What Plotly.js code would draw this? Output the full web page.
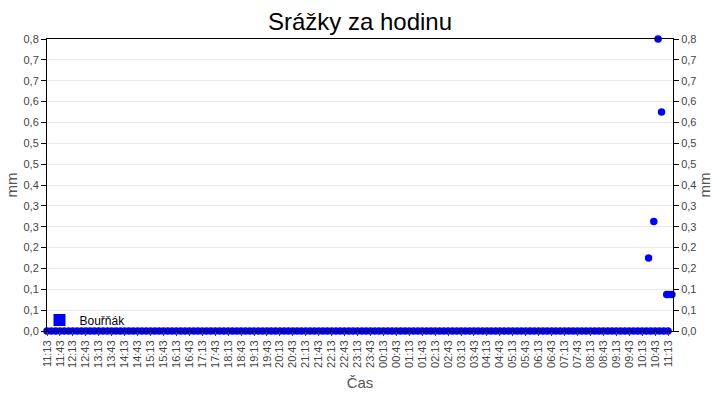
<!DOCTYPE html>
<html>
<head>
<meta charset="utf-8">
<script src="https://cdn.plot.ly/plotly-3.0.1.min.js"></script>
<style>html,body{margin:0;padding:0;background:#fff;}#chart{width:720px;height:400px;}</style>
</head>
<body>
<div id="chart"></div>
<script>
// Measurement times (day 1 = 2024-06-01, day 2 = 2024-06-02) and hourly rainfall in mm
const timesDay1 = ["11:13","11:23","11:33","11:43","11:53",
  "12:03","12:13","12:23","12:33","12:43","12:53","13:03","13:13","13:23","13:33","13:43","13:53",
  "14:03","14:13","14:23","14:33","14:43","14:53","15:03","15:13","15:23","15:33","15:43","15:53",
  "16:03","16:13","16:23","16:33","16:43","16:53","17:03","17:13","17:23","17:33","17:43","17:53",
  "18:03","18:13","18:23","18:33","18:43","18:53","19:03","19:13","19:23","19:33","19:43","19:53",
  "20:03","20:13","20:23","20:33","20:43","20:53","21:03","21:13","21:23","21:33","21:43","21:53",
  "22:03","22:13","22:23","22:33","22:43","22:53","23:03","23:13","23:23","23:33","23:43","23:53"];
const valuesDay1 = [0,0,0,0,0,
  0,0,0,0,0,0,0,0,0,0,0,0,
  0,0,0,0,0,0,0,0,0,0,0,0,
  0,0,0,0,0,0,0,0,0,0,0,0,
  0,0,0,0,0,0,0,0,0,0,0,0,
  0,0,0,0,0,0,0,0,0,0,0,0,
  0,0,0,0,0,0,0,0,0,0,0,0];
const timesDay2 = [
  "00:03","00:13","00:23","00:33","00:43","00:53","01:03","01:13","01:23","01:33","01:43","01:53",
  "02:03","02:13","02:23","02:33","02:43","02:53","03:03","03:13","03:23","03:33","03:43","03:53",
  "04:03","04:13","04:23","04:33","04:43","04:53","05:03","05:13","05:23","05:33","05:43","05:53",
  "06:03","06:13","06:23","06:33","06:43","06:53","07:03","07:13","07:23","07:33","07:43","07:53",
  "08:03","08:13","08:23","08:33","08:43","08:53","09:03","09:13","09:23","09:33","09:43","09:53",
  "10:03","10:13","10:23","10:28","10:33","10:40","10:43","10:50","10:53","10:58",
  "11:03","11:10","11:13","11:16","11:22"];
const valuesDay2 = [
  0,0,0,0,0,0,0,0,0,0,0,0,
  0,0,0,0,0,0,0,0,0,0,0,0,
  0,0,0,0,0,0,0,0,0,0,0,0,
  0,0,0,0,0,0,0,0,0,0,0,0,
  0,0,0,0,0,0,0,0,0,0,0,0,
  0,0,0,0.2,0,0.3,0,0.8,0,0.6,
  0,0.1,0,0.1,0.1];

const seriesName = "Bouřňák";
const yTickText = ["0,0","0,1","0,1","0,2","0,2","0,3","0,3","0,4","0,5","0,5","0,6","0,6","0,7","0,7","0,8"];
const yMax = 0.8;

const x = timesDay1.map(t => "2024-06-01 " + t).concat(timesDay2.map(t => "2024-06-02 " + t));
const y = valuesDay1.concat(valuesDay2);
const yTickVals = yTickText.map((_, i) => i * yMax / (yTickText.length - 1));

const fam = "Liberation Sans, Arial, sans-serif";
const tickFont = {family: fam, size: 11, color: "#444"};
const axisTitleFont = {family: fam, size: 15, color: "#555"};

const traces = [
  {x: x, y: y, type: "scatter", mode: "markers", name: seriesName, showlegend: false,
   marker: {color: "#0000ff", size: 7.5, symbol: "circle"}, cliponaxis: false},
  {x: [null], y: [null], type: "scatter", mode: "markers", name: seriesName, showlegend: true,
   marker: {color: "#0000ff", size: 12, symbol: "square"}},
  {x: x, y: y, type: "scatter", mode: "markers", yaxis: "y2", showlegend: false, hoverinfo: "skip",
   marker: {color: "rgba(0,0,0,0)", size: 1}}
];

const yCommon = {
  range: [0, yMax], tickmode: "array", tickvals: yTickVals, ticktext: yTickText,
  showgrid: true, gridcolor: "#ebebeb", gridwidth: 1, zeroline: false,
  showline: true, linecolor: "#000", linewidth: 1,
  ticks: "outside", ticklen: 5, tickcolor: "#000", tickfont: tickFont,
  title: {text: "mm", font: axisTitleFont, standoff: 2}
};

const layout = {
  width: 720, height: 400,
  margin: {l: 47, r: 47, t: 39, b: 69},
  paper_bgcolor: "#fff", plot_bgcolor: "#fff",
  title: {text: "Srážky za hodinu", font: {family: fam, size: 24, color: "#000"},
          x: 0.5, xanchor: "center", y: 0.945, yanchor: "middle"},
  xaxis: {
    type: "date", range: ["2024-06-01 11:13", "2024-06-02 11:24:36"],
    tick0: "2024-06-01 11:13", dtick: 1800000, tickformat: "%H:%M", tickangle: -90,
    showgrid: false, zeroline: false, showline: true, linecolor: "#000", linewidth: 1, mirror: true,
    ticks: "outside", ticklen: 4, tickcolor: "#444", tickfont: tickFont,
    title: {text: "Čas", font: axisTitleFont, standoff: 10}
  },
  yaxis: Object.assign({}, yCommon, {side: "left"}),
  yaxis2: Object.assign({}, yCommon, {side: "right", overlaying: "y", showgrid: false}),
  showlegend: true,
  legend: {x: -0.012, y: -0.012, xanchor: "left", yanchor: "bottom", bgcolor: "rgba(0,0,0,0)",
           font: {family: fam, size: 12, color: "#000"},
           itemsizing: "trace", itemwidth: 30}
};

Plotly.newPlot("chart", traces, layout, {displayModeBar: false, staticPlot: true});
</script>
</body>
</html>
